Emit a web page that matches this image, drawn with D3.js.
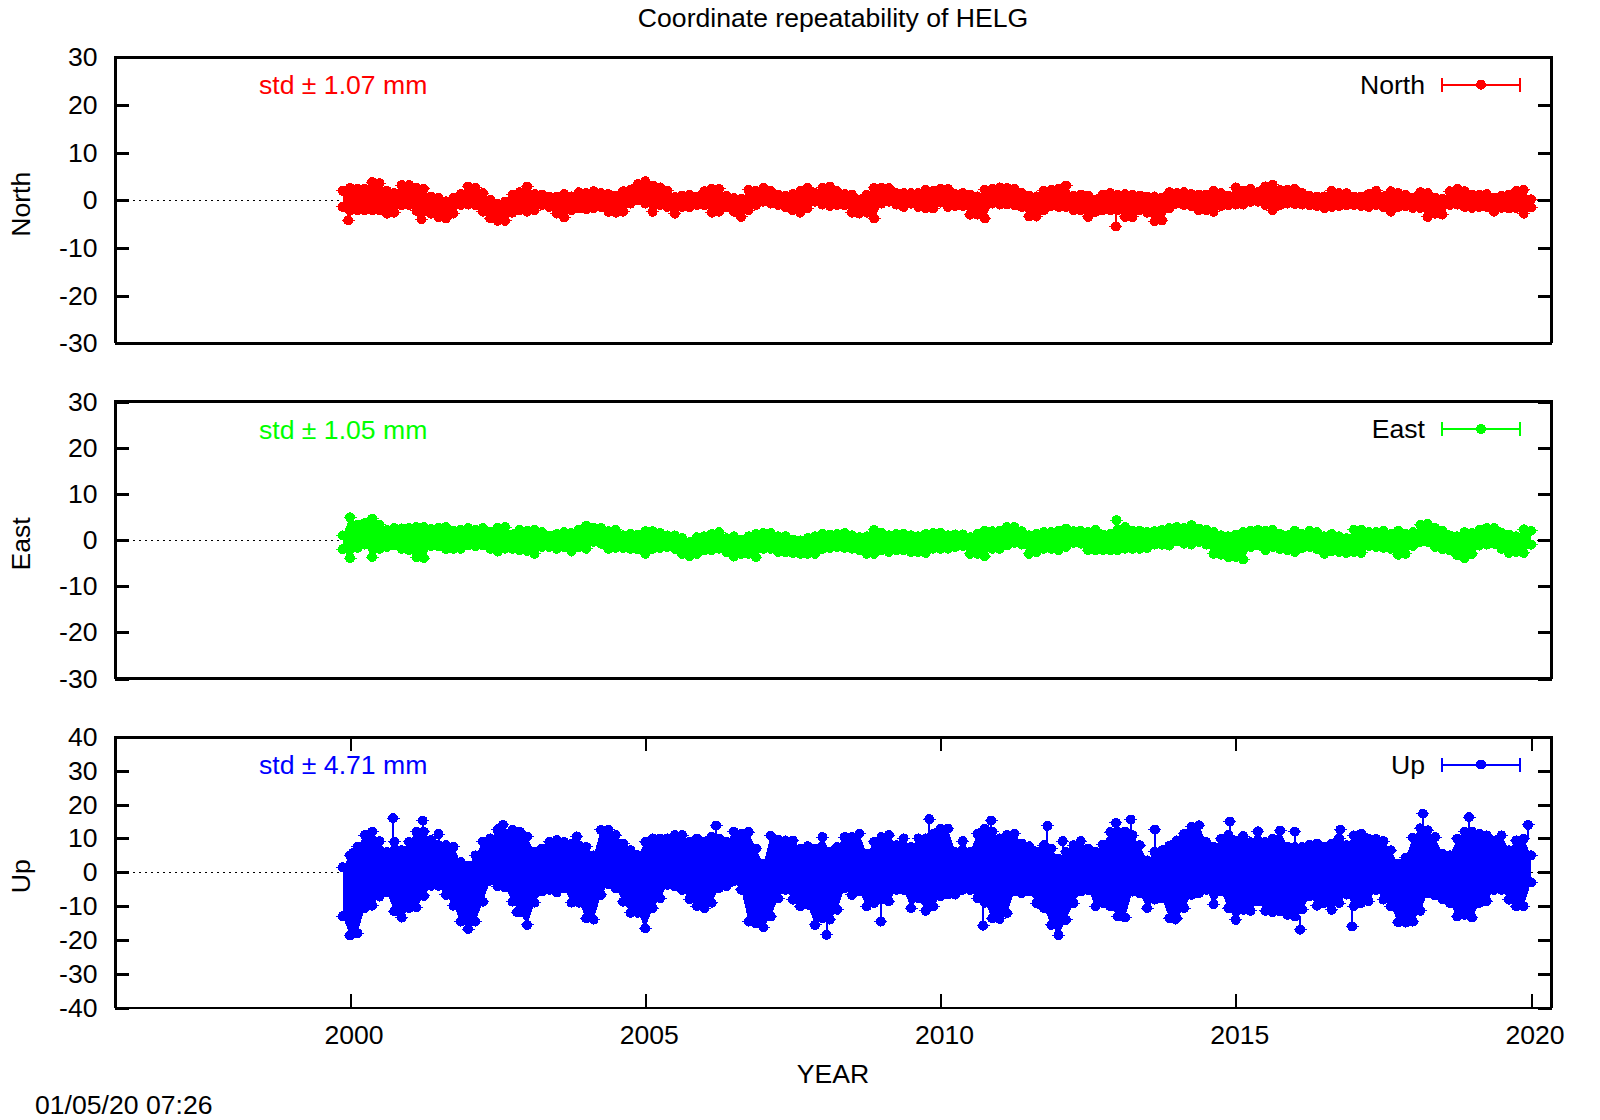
<!DOCTYPE html>
<html>
<head>
<meta charset="utf-8">
<script src="https://cdn.jsdelivr.net/npm/d3@7"></script>
<style>
  html, body { margin: 0; background: #fff; }
  text { font-family: "Liberation Sans", Arial, sans-serif; font-size: 26.6px; fill: #000; }
</style>
</head>
<body>
<svg id="chart" width="1600" height="1120"></svg>
<script>
// sampling dates along the time series
const sampleYears = [
  1999.875,
  2000,2000.125,2000.25,2000.375,2000.5,2000.625,2000.75,2000.875,
  2001,2001.125,2001.25,2001.375,2001.5,2001.625,2001.75,2001.875,
  2002,2002.125,2002.25,2002.375,2002.5,2002.625,2002.75,2002.875,
  2003,2003.125,2003.25,2003.375,2003.5,2003.625,2003.75,2003.875,
  2004,2004.125,2004.25,2004.375,2004.5,2004.625,2004.75,2004.875,
  2005,2005.125,2005.25,2005.375,2005.5,2005.625,2005.75,2005.875,
  2006,2006.125,2006.25,2006.375,2006.5,2006.625,2006.75,2006.875,
  2007,2007.125,2007.25,2007.375,2007.5,2007.625,2007.75,2007.875,
  2008,2008.125,2008.25,2008.375,2008.5,2008.625,2008.75,2008.875,
  2009,2009.125,2009.25,2009.375,2009.5,2009.625,2009.75,2009.875,
  2010,2010.125,2010.25,2010.375,2010.5,2010.625,2010.75,2010.875,
  2011,2011.125,2011.25,2011.375,2011.5,2011.625,2011.75,2011.875,
  2012,2012.125,2012.25,2012.375,2012.5,2012.625,2012.75,2012.875,
  2013,2013.125,2013.25,2013.375,2013.5,2013.625,2013.75,2013.875,
  2014,2014.125,2014.25,2014.375,2014.5,2014.625,2014.75,2014.875,
  2015,2015.125,2015.25,2015.375,2015.5,2015.625,2015.75,2015.875,
  2016,2016.125,2016.25,2016.375,2016.5,2016.625,2016.75,2016.875,
  2017,2017.125,2017.25,2017.375,2017.5,2017.625,2017.75,2017.875,
  2018,2018.125,2018.25,2018.375,2018.5,2018.625,2018.75,2018.875,
  2019,2019.125,2019.25,2019.375,2019.5,2019.625,2019.75,2019.875,
  2020
];

// highest and lowest residual around each date, mm
const northHigh = [
  2,2.6,2.4,2.4,3.8,3.6,2,1.5,3.2,3.2,2.6,2.4,0.8,0.5,-0.2,0.5,1.3,2.9,2.6,1.5,0.1,-0.8,-0.3,1.2,1.7,2.9,
  1.3,1.2,0.8,0.8,1.3,0.8,1.7,1.5,1.9,1.5,1.3,1,1.9,2.2,3.4,4,3.1,2.7,2,0.7,1,1.2,0.8,1.9,2.4,2.4,1,0.5,0.3,
  2.2,2,2.6,2,1.2,1,1.3,2,2.6,1.5,2.6,2.9,1.9,1.3,1.2,0.1,1.2,2.6,2.6,2.6,1.5,1.5,1.5,1.5,
  2.2,2,2.4,2.4,1.3,1.5,1.2,0.8,2.2,2.4,2.7,2.6,2.4,1.5,1,0.8,2,2.2,2.4,3.1,1,1.2,1,0.1,1.2,1.5,1.2,1.3,1.2,1,
  0.8,0.8,0.6,1.7,1.5,1.7,1.3,1.2,1.2,2,1.5,1,2.7,2,2.4,1.7,2.9,3.3,2.2,2.2,2.4,1.5,1,0.8,0.8,2,1.5,1.5,0.8,0.8,
  1.3,2,0.8,1.9,1.5,1.2,0.6,1.7,1.5,0.6,0.3,1.9,2.4,1.9,1.2,1.2,1.3,0.6,1,1.2,2,2.2,0.2
];
const northLow = [
  -1.4,-2.2,-2.1,-2.1,-2.1,-2.1,-2.8,-2.6,-1,-1,-2.2,-2.4,-2.8,-3.5,-3.8,-2.8,-1,-0.9,-1,-2.4,-3.8,-4.3,-4.3,-2.6,-2.1,-2.4,
  -2.1,-1,-1.4,-2.8,-3.6,-2.1,-1.7,-1.9,-1.7,-1.4,-2.4,-2.6,-2.4,-0.7,0,-0.7,-2.4,-1,-1.4,-2.8,-1.4,-1.4,-1,-1,-2.6,-2.4,-1.4,-2.4,-3.5,
  -2.1,-1,-0.3,-0.7,-1,-1.4,-2.1,-2.6,-1.7,-0.3,-0.9,-1.2,-1,-1,-2.6,-2.8,-2.6,-3.8,-0.7,-0.3,-0.9,-1.4,-0.7,-1.4,
  -1.7,-1.7,-0.5,-1.4,-1.2,-1.2,-3,-3,-3.8,-0.7,-0.9,-0.9,-1,-1.4,-3.4,-3.4,-2.1,-1.2,-1.4,-1.4,-2.1,-2.1,-3.5,-2.4,-2.1,-2.1,-2.1,-3.5,-3.5,-2.1,
  -2.6,-4.4,-4.2,-1.7,-0.7,-1,-1.2,-2.1,-2.1,-2.4,-1.2,-1,-0.9,-0.9,-0.3,-0.3,-1,-2.1,-1,-0.7,-0.8,-0.9,-1,-1.2,-1.7,-1.4,-1.2,-1,-1,-1.2,
  -1.4,-1,-1.4,-2.4,-1.4,-1.2,-1.6,-1.6,-3.5,-2.8,-3,-1,-0.9,-1.4,-1.6,-1.4,-1.4,-2.4,-1.6,-1.7,-1.6,-2.8,-1.5
];
const eastHigh = [
  1,4.9,3.3,3.7,4.6,3.3,2.2,2.6,2.5,2.6,2.8,2.8,2.4,2.6,2.8,2,2.2,2.6,2.2,2.6,1.7,2.6,2.8,1.2,2.2,2,
  2.2,1.7,0.9,1.3,1.7,1.5,2.2,3.1,2.6,2.6,1.9,2.2,1,1.3,1.2,1.9,1.9,1.5,1,1,0.4,-0.5,0.6,0.8,1.3,1.7,0.4,0.8,0.1,
  0.8,1.3,1.5,1.5,0.8,0.8,0.1,-0.1,0.4,0.8,1.3,1.2,1.3,1.5,1,0.6,0.8,2.2,1.5,1,1.3,1.3,1,0.8,
  1.3,1.5,1.5,1,1.2,1.2,0.6,1.3,2,1.9,2,2.8,2.8,1.9,1,1.3,1.7,1.7,2,2.5,1.9,2,1.7,2.2,1.2,1.3,2.2,2.8,2,2,
  1.7,1.9,2.2,2.6,2.8,2.6,3.2,2.5,2.2,1.7,1,0.8,1.2,1.7,2,2.2,2,2.2,1.3,1,2,1.3,2,1.7,0.8,1.3,0.8,0.4,2.2,2.2,
  1.7,1.7,2,1.3,2,1.3,1.7,3.3,3.5,2.6,2,1,0.8,1.7,1.5,2.2,2.6,2.6,1.5,1.2,0.8,2.3,2
];
const eastLow = [
  -2,-3.9,-1.7,-1,-3.7,-1.9,-1.5,-1.2,-1.9,-2.2,-3.7,-3.9,-1.3,-1.4,-2,-1.9,-1.9,-1.2,-1.3,-1.2,-1.9,-2.5,-1.9,-1.9,-2.2,-2.4,
  -3,-1.5,-1.5,-1.9,-1.5,-2.5,-1.5,-1.9,-0.4,-0.8,-1.9,-1.7,-1.7,-1.9,-2,-3,-1.9,-1.7,-1.5,-1.9,-3,-3.5,-3,-2.2,-2.2,-1.9,-2.6,-3.6,-3,
  -3,-3.7,-1.9,-1.9,-2.6,-2.6,-2.8,-3,-3,-3,-1.9,-1.7,-1.5,-1.7,-1.9,-2.2,-3,-3,-2.2,-2.6,-2.2,-2.2,-2.6,-2.6,
  -2.8,-1.9,-1.9,-1.9,-1.5,-1.3,-3,-3,-3.5,-1.9,-1.9,-1.2,-0.6,-1,-3,-2.6,-1.9,-1.9,-2.2,-1.5,-0.6,-0.8,-2.2,-2.2,-2.2,-2.2,-2.2,-1.9,-1.9,-1.9,
  -1.7,-1,-1,-1.2,-0.3,-0.8,-1,-0.4,-1,-3,-3.2,-3.7,-3.7,-4.2,-1.5,-1.2,-2.2,-1.5,-2,-2.2,-2.6,-1.7,-1.5,-2,-3,-2.4,-2.6,-2.8,-2.6,-2.8,
  -1.3,-1.5,-1.7,-1.9,-3.2,-3,-1.3,-0.4,-0.4,-1.5,-2,-2.2,-3.3,-4,-3,-1.2,-1,-0.8,-1.9,-2.8,-2.6,-2.8,-1
];
const upHigh = [
  1.5,5,7.5,11,12,9.2,6,9,6.5,9,12,12,9.5,8,8,7.5,3,2,5,9,10,12.5,11.5,12.5,12,10.5,
  6,7,9,9.5,9,8.5,8,7.5,5,12.5,12.5,11,8.5,6.5,5,9,10,10,10,11,11,9,10,9,10.5,10,9,12,
  11.4,11.9,7,2.5,10.8,9.6,9.4,9.4,7,7.7,7,10.4,6,7.5,10.4,10.4,11.4,5.5,9,10.4,11,8,10,7.5,10,10,11.4,12.9,12.9,6,
  9.2,6,11.4,12.9,12,10,11,11.4,8.5,7.7,6,8,7,4,6,8,9.2,7,6,8.2,11.9,12,12,11,8,3.5,6,
  6.5,7.9,9.4,11.4,13.4,13.9,8.9,7.5,9.9,11,9.4,10.7,8.9,12.1,8.9,9.9,12.3,7.5,7.5,7.5,8.2,8.5,7.5,8.5,10,8,
  10.9,11.4,9.9,9.9,9.2,6.5,2.5,4.3,10.2,13,12.4,10.4,5.5,5,9.9,12,12,11.4,10.9,9.4,10.9,6.5,9.4,9.9,5
];
const upLow = [
  -13,-18.7,-18,-10.6,-9.9,-7.2,-5.9,-11.6,-13.4,-10.6,-10.4,-7,-4,-4,-6.7,-9.9,-14.6,-16.8,-14.6,-8.7,-2.5,-4.2,-4.5,-8.7,-11.8,-15.6,
  -9,-5.7,-5.2,-6,-4.7,-9,-9,-13.6,-14,-6.7,-3.5,-4.7,-8.7,-12,-12,-16.6,-10.6,-7.7,-3.7,-4.2,-5.2,-8,-10,-10.6,-9,-4.7,-4.2,-2.7,
  -5.2,-14.6,-15.1,-16.3,-13.1,-7.7,-5.2,-8.1,-10.1,-9.6,-15.6,-13.6,-14,-11.1,-4.7,-6.7,-5.7,-10.1,-9.1,-8,-8.6,-5.2,-5.2,-10.6,-7.7,-11.4,-10.1,-7.1,-6.6,-6.6,
  -5.2,-5.2,-7.7,-9,-13.6,-13.8,-12.1,-5.7,-6.2,-5.7,-9.1,-10.6,-15.6,-18.6,-14.1,-9.1,-5.7,-5.2,-10.1,-9.1,-10.1,-13.1,-13.4,-5.7,-6.2,-10.6,-8.1,
  -7.7,-13.6,-13.6,-10.6,-6.7,-6.2,-5.2,-9.5,-5.7,-10.6,-14.1,-11.1,-11.4,-8.6,-11.4,-11.8,-11.6,-12.6,-13.1,-11,-7.1,-9.9,-9.1,-11.1,-9.1,-6.6,
  -10,-9.1,-8.6,-5.2,-8.1,-10.1,-14.8,-14.9,-14.6,-11.4,-6.2,-6.9,-7.9,-9.1,-13.1,-12.6,-13.4,-9.1,-8.6,-5.2,-5.2,-8.1,-10.1,-10.1,-3
];

// points standing clear of the band: date, value, and where the error bar ends
const northOutYears = [1999.97,2001.21,2012.97];
const northOutValues = [-4.2,-4,-5.5];
const northOutStems = [-4.2,-4,-2.5];
const eastOutYears = [2012.98];
const eastOutValues = [4.3];
const eastOutStems = [2];
const upOutYears = [2000.05,2000.73,2001.23,2001.5,2002.59,2002.83,2003.84,2006.2,2008.07,2008.99,2009.81,2010.72,2010.86,2011.81,2012.07,2012.97,2013.22,2013.63,2013.98,2014.9,2016,2016.09,2016.77,2016.97,2018.17,2018.95,2019.95];
const upOutValues = [5.7,16,15.3,11.3,14,-11.8,10.6,13.8,-18.5,-14.6,15.7,-15.8,15.3,13.7,9.2,14.6,15.6,12.6,-14,15,12,-17,12.6,-16,17.3,16.3,14];
const upOutStems = [4,10,12,8,11,-8,8,10,-14,-9,10,-9,12,7,6,12,12,6,-11,12,7,-13,10,-11,13,13,9.5];

const xTickValues = [2000,2005,2010,2015,2020];
const northTicks = [-30,-20,-10,0,10,20,30];
const eastTicks = [-30,-20,-10,0,10,20,30];
const upTicks = [-40,-30,-20,-10,0,10,20,30,40];

const panels = [
  { name: "North", color: "#ff0000", std: "std \u00b1 1.07 mm", top: 57.2, bottom: 343.4, ymax: 30, ticks: northTicks, high: northHigh, low: northLow, outX: northOutYears, outY: northOutValues, outTo: northOutStems },
  { name: "East", color: "#00ff00", std: "std \u00b1 1.05 mm", top: 401.5, bottom: 678.5, ymax: 30, ticks: eastTicks, high: eastHigh, low: eastLow, outX: eastOutYears, outY: eastOutValues, outTo: eastOutStems },
  { name: "Up", color: "#0000ff", std: "std \u00b1 4.71 mm", top: 737, bottom: 1007.5, ymax: 40, ticks: upTicks, high: upHigh, low: upLow, outX: upOutYears, outY: upOutValues, outTo: upOutStems }
];

const svg = d3.select("#chart");
const left = 115, right = 1551.7, dot = 5, cap = 6.5;

const xScale = d3.scaleLinear()
  .domain([1996.02, 2020.35])
  .range([left, right]);

panels.forEach(function(p, idx) {
  const yScale = d3.scaleLinear()
    .domain([-p.ymax, p.ymax])
    .range([p.bottom, p.top]);
  const g = svg.append("g").attr("shape-rendering", "crispEdges");

  // zero line, mostly hidden under the data
  g.append("line")
    .attr("x1", left).attr("x2", right)
    .attr("y1", yScale(0)).attr("y2", yScale(0))
    .attr("stroke", "#000").attr("stroke-width", 1)
    .attr("stroke-dasharray", "2 4");

  const area = d3.area()
    .x(function(d) { return xScale(d); })
    .y0(function(d, i) { return yScale(p.low[i]); })
    .y1(function(d, i) { return yScale(p.high[i]); });
  g.append("path")
    .datum(sampleYears)
    .attr("d", area)
    .attr("fill", p.color);

  // band edges plus the points standing clear of it
  const edge = [];
  sampleYears.forEach(function(t, i) {
    edge.push({ t: t, v: p.high[i], to: p.high[i] });
    edge.push({ t: t, v: p.low[i], to: p.low[i] });
  });
  p.outX.forEach(function(t, i) {
    edge.push({ t: t, v: p.outY[i], to: p.outTo[i] });
  });

  g.selectAll(".stem")
    .data(edge.filter(function(d) { return d.to !== d.v; }))
    .enter().append("line")
    .attr("class", "stem")
    .attr("x1", function(d) { return xScale(d.t); })
    .attr("x2", function(d) { return xScale(d.t); })
    .attr("y1", function(d) { return yScale(d.v); })
    .attr("y2", function(d) { return yScale(d.to); })
    .attr("stroke", p.color).attr("stroke-width", 2);

  g.selectAll(".cap")
    .data(edge)
    .enter().append("line")
    .attr("class", "cap")
    .attr("x1", function(d) { return xScale(d.t) - cap; })
    .attr("x2", function(d) { return xScale(d.t) + cap; })
    .attr("y1", function(d) { return yScale(d.v); })
    .attr("y2", function(d) { return yScale(d.v); })
    .attr("stroke", p.color).attr("stroke-width", 1);

  g.selectAll(".dot")
    .data(edge)
    .enter().append("circle")
    .attr("class", "dot")
    .attr("cx", function(d) { return xScale(d.t); })
    .attr("cy", function(d) { return yScale(d.v); })
    .attr("r", dot)
    .attr("fill", p.color);

  // y ticks on both sides
  const yAxis = g.append("g")
    .attr("transform", "translate(" + left + ",0)")
    .call(d3.axisLeft(yScale).tickValues(p.ticks).tickFormat(String).tickSize(-14).tickPadding(18));
  yAxis.select(".domain").remove();
  yAxis.selectAll("line").attr("stroke-width", 3);
  yAxis.selectAll("text").attr("text-anchor", "end").attr("x", -17.5);

  const yAxisR = g.append("g")
    .attr("transform", "translate(" + right + ",0)")
    .call(d3.axisRight(yScale).tickValues(p.ticks).tickFormat("").tickSize(-14));
  yAxisR.select(".domain").remove();
  yAxisR.selectAll("line").attr("stroke-width", 3);

  if (idx === 2) {
    const xAxis = g.append("g")
      .attr("transform", "translate(0," + p.bottom + ")")
      .call(d3.axisBottom(xScale).tickValues(xTickValues).tickFormat(String).tickSize(-14));
    xAxis.select(".domain").remove();
    xAxis.selectAll("line").attr("stroke-width", 2);
    xAxis.selectAll("text").attr("x", 3.5).attr("y", 0).attr("dy", 36);
    const xAxisTop = g.append("g")
      .attr("transform", "translate(0," + p.top + ")")
      .call(d3.axisTop(xScale).tickValues(xTickValues).tickFormat("").tickSize(-14));
    xAxisTop.select(".domain").remove();
    xAxisTop.selectAll("line").attr("stroke-width", 2);
  }

  // frame, the bottom edge of the last panel is thinner
  g.append("path")
    .attr("d", "M" + left + "," + p.bottom + "V" + p.top + "H" + right + "V" + p.bottom)
    .attr("fill", "none").attr("stroke", "#000").attr("stroke-width", 3);
  g.append("line")
    .attr("x1", left).attr("x2", right)
    .attr("y1", p.bottom).attr("y2", p.bottom)
    .attr("stroke", "#000").attr("stroke-width", idx === 2 ? 2 : 3);

  svg.append("text")
    .attr("x", 259).attr("y", p.top + 37)
    .style("fill", p.color)
    .text(p.std);

  // legend
  const ly = p.top + 27.5;
  const lg = svg.append("g").attr("shape-rendering", "crispEdges");
  lg.append("path")
    .attr("d", "M1442," + (ly - 7) + "V" + (ly + 7) + "M1442," + ly + "H1520M1520," + (ly - 7) + "V" + (ly + 7))
    .attr("fill", "none").attr("stroke", p.color).attr("stroke-width", 2);
  lg.append("circle").attr("cx", 1481).attr("cy", ly).attr("r", dot).attr("fill", p.color);
  svg.append("text")
    .attr("x", 1425).attr("y", ly + 9)
    .attr("text-anchor", "end")
    .text(p.name);

  svg.append("text")
    .attr("transform", "translate(30," + ((p.top + p.bottom) / 2 + 4) + ") rotate(-90)")
    .attr("text-anchor", "middle")
    .text(p.name);
});

svg.append("text").attr("x", 833).attr("y", 27).attr("text-anchor", "middle")
  .text("Coordinate repeatability of HELG");
svg.append("text").attr("x", 833).attr("y", 1083).attr("text-anchor", "middle")
  .text("YEAR");
svg.append("text").attr("x", 35).attr("y", 1114)
  .text("01/05/20 07:26");
</script>
</body>
</html>
